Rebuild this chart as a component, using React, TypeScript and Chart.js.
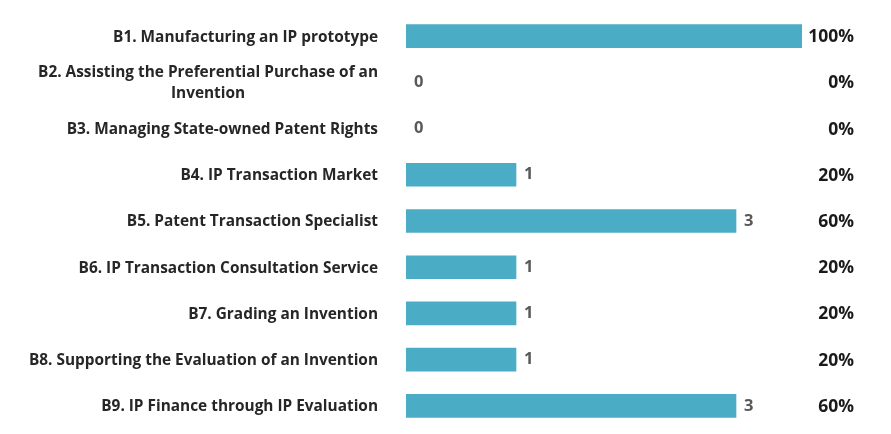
import React, { useEffect, useRef } from "react";
import { Chart, registerables } from "chart.js";

Chart.register(...registerables);

const categories: (string | string[])[] = [
  "B1. Manufacturing an IP prototype",
  ["B2. Assisting the Preferential Purchase of an", "Invention"],
  "B3. Managing State-owned Patent Rights",
  "B4. IP Transaction Market",
  "B5. Patent Transaction Specialist",
  "B6. IP Transaction Consultation Service",
  "B7. Grading an Invention",
  "B8. Supporting the Evaluation of an Invention",
  "B9. IP Finance through IP Evaluation",
];
const counts = [5, 0, 0, 1, 3, 1, 1, 1, 3];
const percents = ["100%", "0%", "0%", "20%", "60%", "20%", "20%", "20%", "60%"];
const axisMax = 3.6;

const FONT = "'Open Sans', Lato, sans-serif";

const labelPlugin = {
  id: "customLabels",
  afterDatasetsDraw(chart: any) {
    const { ctx, chartArea } = chart;
    const yScale = chart.scales.y;
    const meta = chart.getDatasetMeta(0);
    ctx.save();
    ctx.textBaseline = "middle";
    ctx.font = `bold 15.4px ${FONT}`;
    ctx.fillStyle = "#262626";
    categories.forEach((lab, i) => {
      const y = yScale.getPixelForTick(i) + 1;
      const right = chartArea.left - 28;
      const lines = Array.isArray(lab) ? lab : [lab];
      const widths = lines.map((l) => ctx.measureText(l).width);
      const maxW = Math.max(...widths);
      const lh = 21;
      const top = y - ((lines.length - 1) * lh) / 2;
      lines.forEach((l, j) => {
        if (lines.length === 1) {
          ctx.textAlign = "right";
          ctx.fillText(l, right, top + j * lh);
        } else {
          ctx.textAlign = "center";
          ctx.fillText(l, right - maxW / 2, top + j * lh);
        }
      });
    });
    ctx.font = `bold 16.5px ${FONT}`;
    ctx.fillStyle = "#595959";
    ctx.textAlign = "left";
    meta.data.forEach((bar: any, i: number) => {
      if (counts[i] > axisMax) return;
      ctx.fillText(String(counts[i]), bar.x + 8, bar.y);
    });
    ctx.font = `bold 17.5px ${FONT}`;
    ctx.fillStyle = "#1a1a1a";
    ctx.textAlign = "right";
    meta.data.forEach((bar: any, i: number) => {
      ctx.fillText(percents[i], 854, bar.y + 1);
    });
    ctx.restore();
  },
};

export default function App() {
  const ref = useRef<HTMLCanvasElement>(null);
  useEffect(() => {
    if (!ref.current) return;
    const chart = new Chart(ref.current, {
      type: "bar",
      data: {
        labels: categories as any,
        datasets: [
          {
            data: counts,
            backgroundColor: (c: any) => (c.raw === 0 ? "rgba(0,0,0,0)" : "#4BACC6"),
            borderWidth: 0,
            barThickness: 23,
          },
        ],
      },
      options: {
        indexAxis: "y",
        animation: false,
        responsive: false,
        maintainAspectRatio: false,
        layout: { padding: { left: 406, right: 89, top: 13, bottom: 5 } },
        plugins: { legend: { display: false }, tooltip: { enabled: false } },
        scales: {
          x: { display: false, min: 0, max: axisMax },
          y: { display: false, offset: true },
        },
      },
      plugins: [labelPlugin],
    });
    return () => chart.destroy();
  }, []);
  return (
    <div style={{ position: "fixed", left: 0, top: 0, width: 891, height: 434, background: "#fff" }}>
      <canvas ref={ref} width={891} height={434} style={{ width: 891, height: 434 }} />
    </div>
  );
}
